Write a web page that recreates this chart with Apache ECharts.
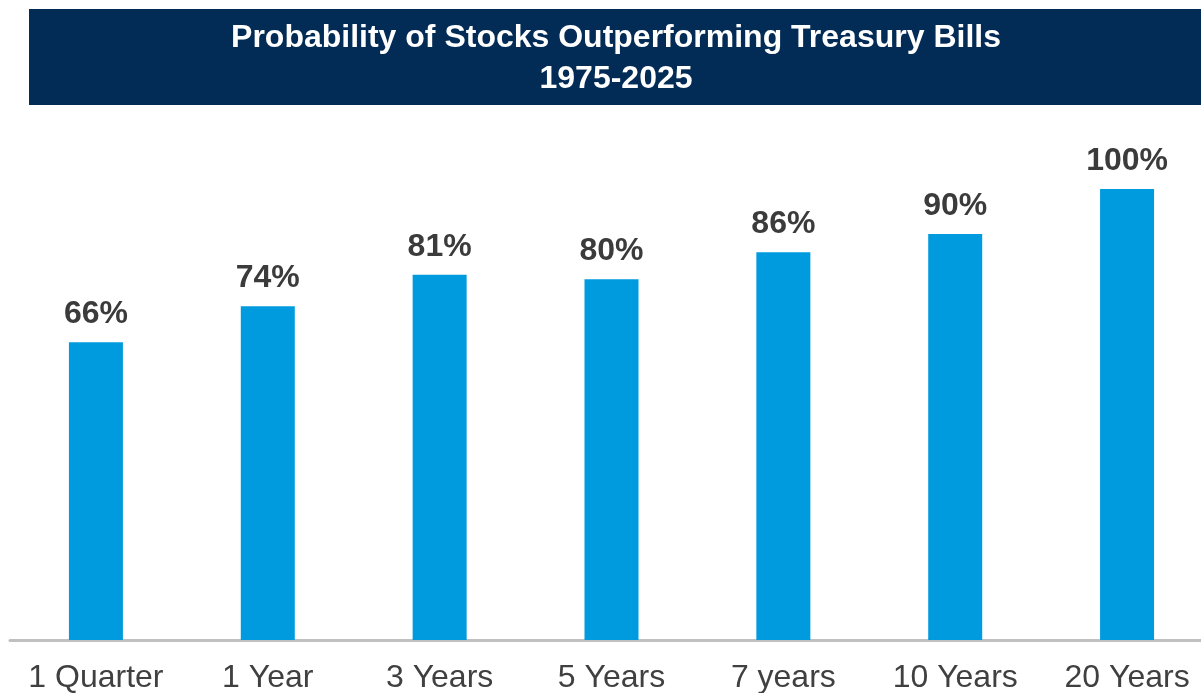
<!DOCTYPE html>
<html>
<head>
<meta charset="utf-8">
<script src="https://cdn.jsdelivr.net/npm/echarts@6/dist/echarts.min.js"></script>
<style>
html,body{margin:0;padding:0;background:#fff;}
#chart{width:1201px;height:693px;}
</style>
</head>
<body>
<div id="chart"></div>
<script>
var titleLines = ['Probability of Stocks Outperforming Treasury Bills', '1975-2025'];
var categories = ['1 Quarter', '1 Year', '3 Years', '5 Years', '7 years', '10 Years', '20 Years'];
var probabilities = [66, 74, 81, 80, 86, 90, 100];

var FONT = '"Liberation Sans", Arial, Helvetica, sans-serif';
var chart = echarts.init(document.getElementById('chart'));
chart.setOption({
  animation: false,
  backgroundColor: '#ffffff',
  graphic: [
    {
      type: 'rect',
      shape: { x: 29, y: 9, width: 1180, height: 96 },
      style: { fill: '#022b55' },
      silent: true
    },
    {
      type: 'text',
      x: 616,
      y: 18,
      style: {
        text: titleLines.join('\n'),
        fill: '#ffffff',
        font: 'bold 32px ' + FONT,
        lineHeight: 41,
        textAlign: 'center',
        textVerticalAlign: 'top'
      },
      silent: true
    }
  ],
  grid: { left: 10, width: 1203, top: 189, bottom: 53, containLabel: false, outerBoundsMode: 'none' },
  xAxis: {
    type: 'category',
    data: categories,
    axisLine: { show: true, lineStyle: { color: '#c0c0c0', width: 3 } },
    axisTick: { show: false },
    axisLabel: {
      interval: 0,
      margin: 22,
      color: '#404040',
      fontSize: 32,
      fontFamily: FONT
    }
  },
  yAxis: {
    type: 'value',
    min: 0,
    max: 100,
    show: false,
    splitLine: { show: false }
  },
  series: [
    {
      type: 'bar',
      data: probabilities,
      barWidth: 54,
      itemStyle: { color: '#009bde' },
      label: {
        show: true,
        position: 'top',
        distance: 12,
        formatter: '{c}%',
        color: '#3b3b3b',
        fontSize: 32,
        fontWeight: 'bold',
        fontFamily: FONT
      }
    }
  ]
});
</script>
</body>
</html>
